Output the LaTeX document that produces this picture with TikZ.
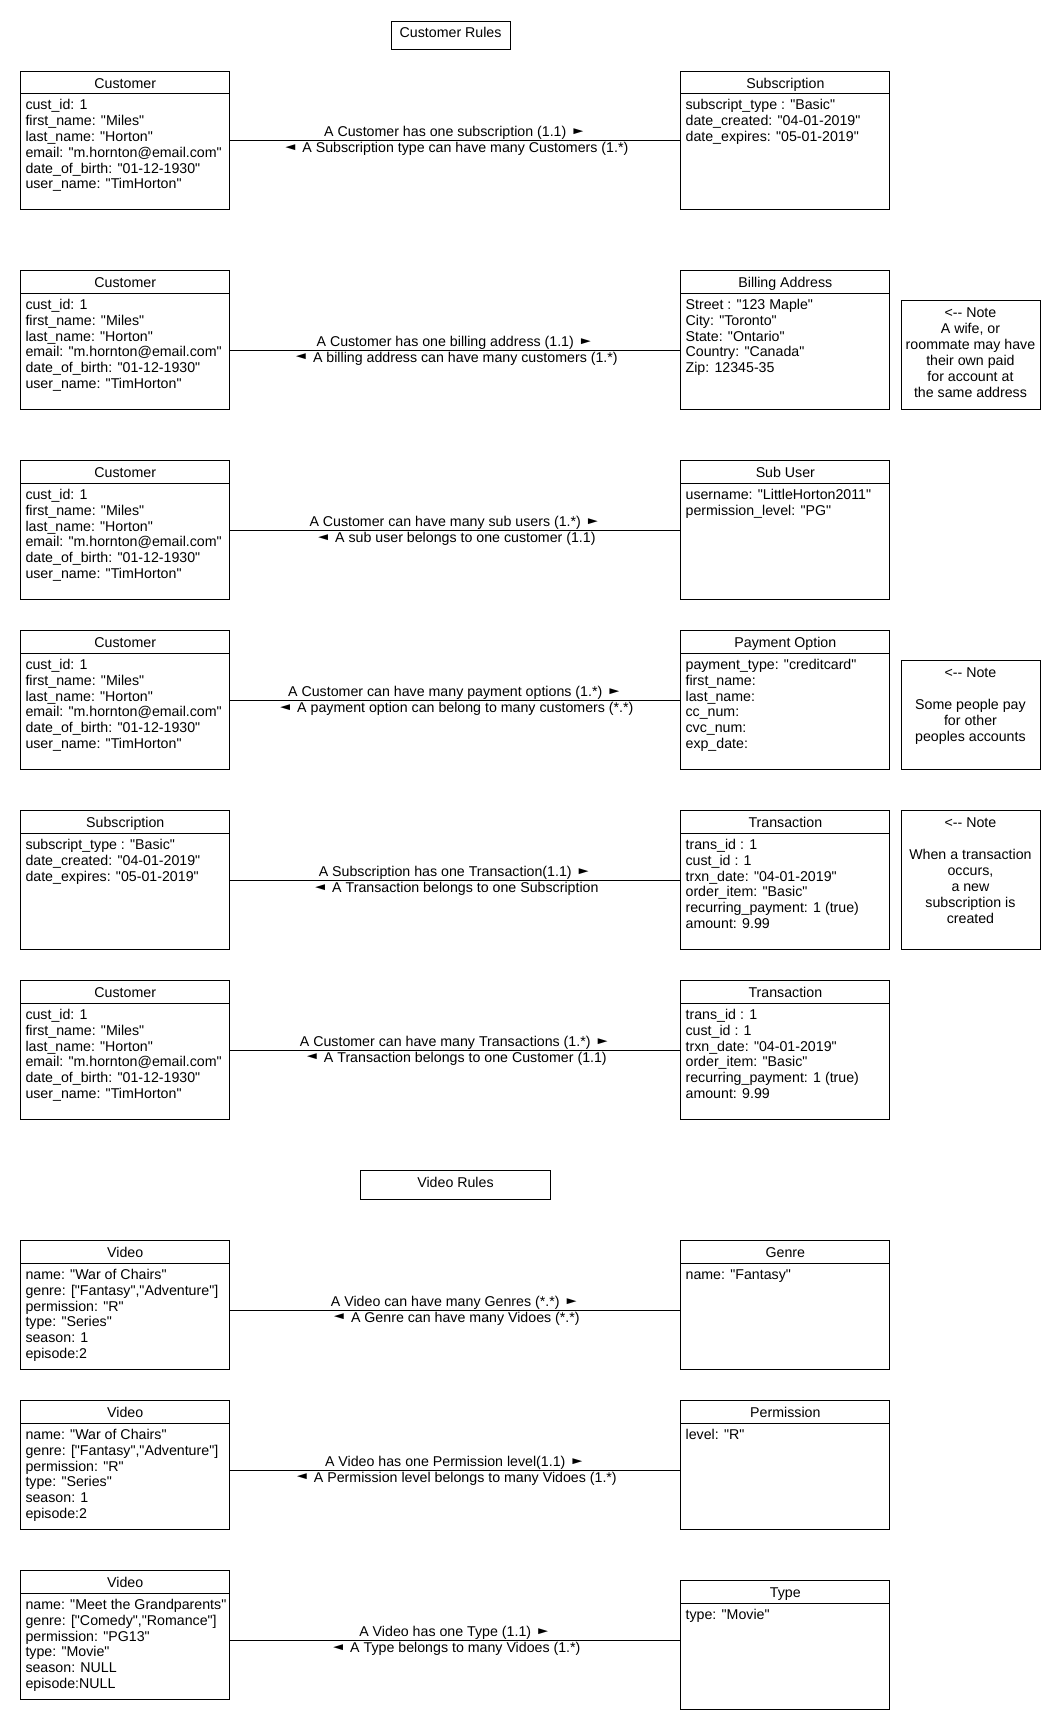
\documentclass[tikz,border=0pt]{standalone}
\usepackage{fontspec}
\usepackage{graphicx}
\newfontfamily\umlfont{Liberation Sans}
\newcommand\umlsize{\fontsize{14.2}{15.8}\selectfont}
\newcommand\notesize{\fontsize{14.2}{16}\selectfont}
\newcommand\rarr{\raisebox{2.3pt}{\scalebox{1.15}[0.7]{►}}}
\newcommand\larr{\raisebox{2.3pt}{\scalebox{1.15}[0.7]{◄}}}
\tikzset{
  boxline/.style={draw=black, line width=0.9pt},
  classbox/.style={boxline, inner sep=0pt, minimum width=209pt, anchor=north west},
  notebox/.style={boxline, inner sep=0pt, minimum width=139pt, anchor=north west},
  rulebox/.style={boxline, inner sep=0pt, anchor=north west},
  titletext/.style={anchor=base, inner sep=0pt, font=\umlfont\umlsize},
  attrtext/.style={anchor=north west, inner sep=0pt, align=left, font=\umlfont\umlsize},
  notetext/.style={anchor=north, inner sep=0pt, align=center, font=\umlfont\notesize},
  rel/.style={draw=black, line width=0.9pt},
  lab/.style={anchor=base, inner sep=0pt, font=\umlfont\umlsize},
  labup/.style={lab, midway, yshift=3.5pt},
  labdown/.style={lab, midway, yshift=-12pt}
}
% name, left x, top y, height, title, attributes
\newcommand\umlclass[6]{%
  \node[classbox, minimum height=#4pt] (#1) at (#2,#3) {};
  \draw[boxline] ([yshift=-23pt]#1.north west) -- ([yshift=-23pt]#1.north east);
  \node[titletext] (#1-t) at ([yshift=-17.5pt]#1.north) {#5};
  \node[attrtext] (#1-a) at ([xshift=5pt,yshift=-27pt]#1.north west) {\rule{0pt}{12pt}#6};
}
\newcommand\custattrs{cust\_id: 1\\first\_name: "Miles"\\last\_name: "Horton"\\email: "m.hornton@email.com"\\date\_of\_birth: "01-12-1930"\\user\_name: "TimHorton"}
\newcommand\subattrs{subscript\_type : "Basic"\\date\_created: "04-01-2019"\\date\_expires: "05-01-2019"}
\newcommand\trxattrs{trans\_id : 1\\cust\_id : 1\\trxn\_date: "04-01-2019"\\order\_item: "Basic"\\recurring\_payment: 1 (true)\\amount: 9.99}
\newcommand\vidattrs{name: "War of Chairs"\\genre: ["Fantasy","Adventure"]\\permission: "R"\\type: "Series"\\season: 1\\episode:2}
\begin{document}
\begin{tikzpicture}[x=1pt,y=-1pt]
\fill[white] (0,0) rectangle (1060,1730);
\useasboundingbox (0,0) rectangle (1060,1730);

% section titles
\node[rulebox, minimum width=119.3pt, minimum height=28.6pt] (crules) at (390.5,20.7) {};
\node[titletext] (crules-t) at ([yshift=-17pt]crules.north) {Customer Rules};
\node[rulebox, minimum width=189.3pt, minimum height=29pt] (vrules) at (360.4,1170.3) {};
\node[titletext] (vrules-t) at ([yshift=-17.5pt]vrules.north) {Video Rules};

% row 1
\umlclass{c1}{20.3}{70.7}{138.6}{Customer}{\custattrs}
\umlclass{s1}{680.4}{70.7}{138.6}{Subscription}{\subattrs}
% row 2
\umlclass{c2}{20.3}{270.3}{139}{Customer}{\custattrs}
\umlclass{ba}{680.4}{270.3}{139}{Billing Address}{Street : "123 Maple"\\City: "Toronto"\\State: "Ontario"\\Country: "Canada"\\Zip: 12345-35}
\node[notebox, minimum height=109pt] (n1) at (900.5,300.3) {};
\node[notetext] (n1-t) at ([yshift=-5.4pt]n1.north) {\rule{0pt}{12pt}<-{}- Note\\A wife, or\\roommate may have\\their own paid\\for account at\\the same address};
% row 3
\umlclass{c3}{20.3}{460.3}{139}{Customer}{\custattrs}
\umlclass{su}{680.4}{460.3}{139}{Sub User}{username: "LittleHorton2011"\\permission\_level: "PG"}
% row 4
\umlclass{c4}{20.3}{630.3}{139}{Customer}{\custattrs}
\umlclass{po}{680.4}{630.3}{139}{Payment Option}{payment\_type: "creditcard"\\first\_name:\\last\_name:\\cc\_num:\\cvc\_num:\\exp\_date:}
\node[notebox, minimum height=109pt] (n2) at (900.5,660.3) {};
\node[notetext] (n2-t) at ([yshift=-5.4pt]n2.north) {\rule{0pt}{12pt}<-{}- Note\\\mbox{}\\Some people pay\\for other\\peoples accounts};
% row 5
\umlclass{s2}{20.3}{810.3}{139}{Subscription}{\subattrs}
\umlclass{t1}{680.4}{810.3}{139}{Transaction}{\trxattrs}
\node[notebox, minimum height=139pt] (n3) at (900.5,810.3) {};
\node[notetext] (n3-t) at ([yshift=-5.4pt]n3.north) {\rule{0pt}{12pt}<-{}- Note\\\mbox{}\\When a transaction\\occurs,\\a new\\subscription is\\created};
% row 6
\umlclass{c5}{20.3}{980.3}{139}{Customer}{\custattrs}
\umlclass{t2}{680.4}{980.3}{139}{Transaction}{\trxattrs}
% row 7
\umlclass{v1}{20.3}{1240.3}{129}{Video}{\vidattrs}
\umlclass{ge}{680.4}{1240.3}{129}{Genre}{name: "Fantasy"}
% row 8
\umlclass{v2}{20.3}{1400.3}{129}{Video}{\vidattrs}
\umlclass{pe}{680.4}{1400.3}{129}{Permission}{level: "R"}
% row 9
\umlclass{v3}{20.3}{1570.3}{129}{Video}{name: "Meet the Grandparents"\\genre: ["Comedy","Romance"]\\permission: "PG13"\\type: "Movie"\\season: NULL\\episode:NULL}
\umlclass{ty}{680.4}{1580.3}{129}{Type}{type: "Movie"}

% connectors
\draw[rel] ([yshift=-69.6pt]c1.north east) -- ([yshift=-69.6pt]s1.north west)
  node[labup] {A Customer has one subscription (1.1) \rarr}
  node[labdown] {\larr{} A Subscription type can have many Customers (1.*)};
\draw[rel] ([yshift=-79.7pt]c2.north east) -- ([yshift=-79.7pt]ba.north west)
  node[labup] {A Customer has one billing address (1.1) \rarr}
  node[labdown] {\larr{} A billing address can have many customers (1.*)};
\draw[rel] ([yshift=-70pt]c3.north east) -- ([yshift=-70pt]su.north west)
  node[labup] {A Customer can have many sub users (1.*) \rarr}
  node[labdown] {\larr{} A sub user belongs to one customer (1.1)};
\draw[rel] ([yshift=-70pt]c4.north east) -- ([yshift=-70pt]po.north west)
  node[labup] {A Customer can have many payment options (1.*) \rarr}
  node[labdown] {\larr{} A payment option can belong to many customers (*.*)};
\draw[rel] ([yshift=-70pt]s2.north east) -- ([yshift=-70pt]t1.north west)
  node[labup] {A Subscription has one Transaction(1.1) \rarr}
  node[labdown] {\larr{} A Transaction belongs to one Subscription};
\draw[rel] ([yshift=-69.7pt]c5.north east) -- ([yshift=-69.7pt]t2.north west)
  node[labup] {A Customer can have many Transactions (1.*) \rarr}
  node[labdown] {\larr{} A Transaction belongs to one Customer (1.1)};
\draw[rel] ([yshift=-69.7pt]v1.north east) -- ([yshift=-69.7pt]ge.north west)
  node[labup] {A Video can have many Genres (*.*) \rarr}
  node[labdown] {\larr{} A Genre can have many Vidoes (*.*)};
\draw[rel] ([yshift=-69.7pt]v2.north east) -- ([yshift=-69.7pt]pe.north west)
  node[labup] {A Video has one Permission level(1.1) \rarr}
  node[labdown] {\larr{} A Permission level belongs to many Vidoes (1.*)};
\draw[rel] ([yshift=-70pt]v3.north east) -- ([yshift=-60pt]ty.north west)
  node[labup] {A Video has one Type (1.1) \rarr}
  node[labdown] {\larr{} A Type belongs to many Vidoes (1.*)};
\end{tikzpicture}
\end{document}
